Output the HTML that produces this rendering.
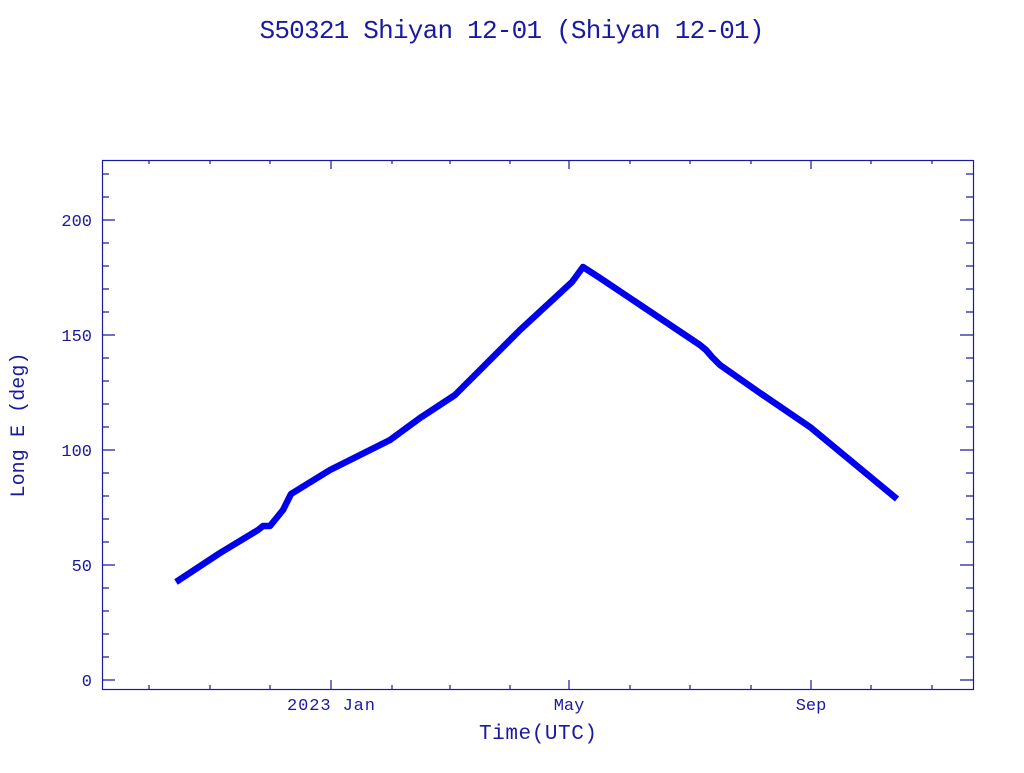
<!DOCTYPE html>
<html><head><style>
body{margin:0;background:#fff;}
svg text{font-family:"Liberation Mono","DejaVu Sans Mono",monospace;fill:#1a1aa0;}
</style></head><body>
<svg width="1024" height="768" xmlns="http://www.w3.org/2000/svg">
<text x="512" y="38" font-size="26" text-anchor="middle" textLength="505">S50321 Shiyan 12-01  (Shiyan 12-01)</text>
<rect x="102.5" y="160.5" width="871" height="529" fill="none" stroke="#1a1aa0" stroke-width="1.2"/>
<g stroke="#1a1aa0" stroke-width="1.2">
<path d="M102 680h13M102 657h7M102 634h7M102 611h7M102 588h7M102 565h13M102 542h7M102 519h7M102 496h7M102 473h7M102 450h13M102 427h7M102 404h7M102 381h7M102 358h7M102 335h13M102 312h7M102 289h7M102 266h7M102 243h7M102 220h13M102 197h7M102 174h7"/>
<path d="M973 680h-13M973 657h-7M973 634h-7M973 611h-7M973 588h-7M973 565h-13M973 542h-7M973 519h-7M973 496h-7M973 473h-7M973 450h-13M973 427h-7M973 404h-7M973 381h-7M973 358h-7M973 335h-13M973 312h-7M973 289h-7M973 266h-7M973 243h-7M973 220h-13M973 197h-7M973 174h-7"/>
<path d="M149 689v-4M210 689v-4M270 689v-4M331 689v-9M392 689v-4M450 689v-4M510 689v-4M569 689v-9M630 689v-4M690 689v-4M751 689v-4M811 689v-9M871 689v-4M932 689v-4"/>
<path d="M149 160v4M210 160v4M270 160v4M331 160v9M392 160v4M450 160v4M510 160v4M569 160v9M630 160v4M690 160v4M751 160v4M811 160v9M871 160v4M932 160v4"/>
</g>
<g font-size="17" text-anchor="end">
<text x="92" y="686">0</text><text x="92" y="571">50</text><text x="92" y="456">100</text><text x="92" y="341">150</text><text x="92" y="226">200</text>
</g>
<g font-size="17" text-anchor="middle">
<text x="331" y="710" textLength="88">2023 Jan</text><text x="569" y="710">May</text><text x="811" y="710">Sep</text>
</g>
<text x="538" y="739" font-size="21" text-anchor="middle" textLength="118">Time(UTC)</text>
<text transform="translate(24,425) rotate(-90)" font-size="20" text-anchor="middle" textLength="145">Long E (deg)</text>
<polyline fill="none" stroke="#0000ee" stroke-width="6.5" stroke-linejoin="round" points="176,582 220,553 258,530 263,526 270,526 283,510 291,494 330,470 390,440 420,418 455,395 470,380 520,330 572,282 583,267 600,278 700,345 706,350 712,357 720,365 730,372 760,393 810,427 897,499"/>
</svg>
</body></html>
